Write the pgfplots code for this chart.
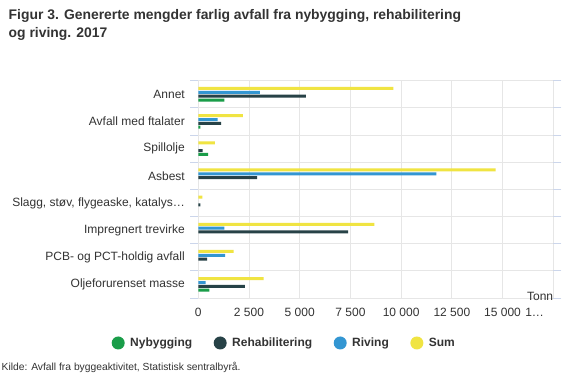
\documentclass[border=0pt]{standalone}
\usepackage{pgfplots}
\pgfplotsset{compat=1.18}
\usepackage{fontspec}
\setmainfont{Liberation Sans}
\definecolor{cgreen}{HTML}{1A9D49}
\definecolor{cdark}{HTML}{274247}
\definecolor{cblue}{HTML}{3396D2}
\definecolor{cyellow}{HTML}{F0E442}
\definecolor{gridc}{HTML}{E6E6E6}
\definecolor{axisc}{HTML}{CCD6EB}
\definecolor{txt}{HTML}{333333}
\begin{document}
\begin{tikzpicture}
\path[use as bounding box, fill=white] (0pt,0pt) rectangle (563pt,375pt);
\node[anchor=base west, inner sep=0pt, font=\fontsize{13.9}{15}\selectfont\bfseries, text=txt] at (8.5pt,355.7pt) {Figur 3. Genererte mengder farlig avfall fra nybygging, rehabilitering};
\node[anchor=base west, inner sep=0pt, font=\fontsize{13.9}{15}\selectfont\bfseries, text=txt] at (8.5pt,337.3pt) {og riving. 2017};
\node[anchor=base west, inner sep=0pt, font=\fontsize{10.3}{12}\selectfont, text=txt] at (1.5pt,4.5pt) {Kilde: Avfall fra byggeaktivitet, Statistisk sentralbyrå.};
\begin{axis}[
  at={(198.3pt,77pt)}, anchor=south west,
  scale only axis, width=355pt, height=217.3pt,
  font=\fontsize{12}{14}\selectfont,
  xmin=0, xmax=17500, ymin=-0.5, ymax=7.5,
  xbar, bar width=3pt,
  scaled x ticks=false,
  xtick={0,2500,...,17500},
  xticklabels={0,2 500,5 000,7 500,10 000,12 500,15 000,\makebox[56pt][l]{1…}},
  ytick={0,...,7},
  yticklabels={Oljeforurenset masse,PCB- og PCT-holdig avfall,Impregnert trevirke,{Slagg, støv, flygeaske, katalys…},Asbest,Spillolje,Avfall med ftalater,Annet},
  minor ytick={-0.5,0.5,...,7.5},
  yminorgrids, xmajorgrids,
  major grid style={color=gridc, line width=0.8pt},
  minor grid style={color=gridc, line width=0.8pt},
  axis line style={draw=none},
  tick align=outside,
  major tick length=0pt,
  minor tick length=8pt,
  minor tick style={color=axisc, line width=0.8pt},
  /pgf/number format/assume math mode=true,
  xticklabel style={text=txt, yshift=-7pt},
  yticklabel style={text=txt, xshift=-10pt},
  xlabel={Tonn},
  xlabel style={at={(axis description cs:1,0)}, anchor=east, inner sep=0pt, yshift=2pt, text=txt},
  legend columns=4,
  legend image code/.code={\fill[#1] (6.5pt,0pt) circle (6.5pt);},
  legend style={at={(axis description cs:-0.2445,-0.207)}, anchor=west, draw=none, fill=none, inner sep=0pt,
    font=\fontsize{12}{14}\selectfont\bfseries, text=txt,
    nodes={inner sep=0pt},
    /tikz/every even column/.append style={column sep=21.5pt},
    /tikz/every odd column/.append style={column sep=5.5pt}},
]
\addplot[fill=cgreen, draw=none, bar shift=-5.8pt] coordinates {(1280,7) (100,6) (490,5) (540,0)};
\addlegendentry{Nybygging}
\addplot[fill=cdark, draw=none, bar shift=-1.9pt] coordinates {(5300,7) (1130,6) (210,5) (2900,4) (100,3) (7390,2) (440,1) (2300,0)};
\addlegendentry{Rehabilitering}
\addplot[fill=cblue, draw=none, bar shift=1.9pt] coordinates {(3040,7) (950,6) (11730,4) (1280,2) (1320,1) (360,0)};
\addlegendentry{Riving}
\addplot[fill=cyellow, draw=none, bar shift=5.8pt] coordinates {(9620,7) (2200,6) (820,5) (14660,4) (200,3) (8680,2) (1740,1) (3220,0)};
\addlegendentry{Sum}
\end{axis}
\end{tikzpicture}
\end{document}
